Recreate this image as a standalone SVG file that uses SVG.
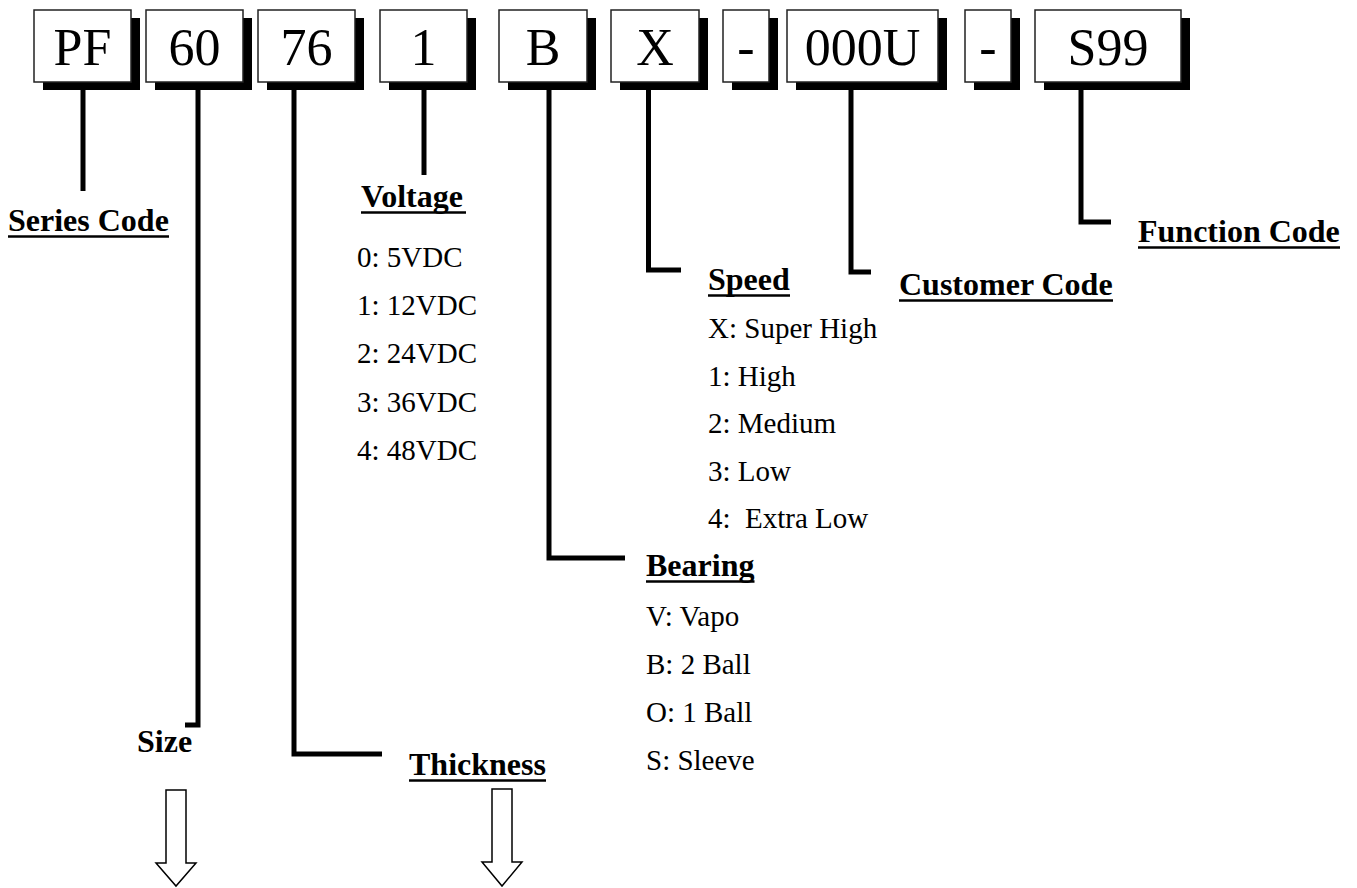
<svg xmlns="http://www.w3.org/2000/svg" width="1357" height="888" viewBox="0 0 1357 888">
<style>
.box{fill:#fff;stroke:#222;stroke-width:1.5}
.sh{fill:#000}
.bt{font-family:"Liberation Serif","Times New Roman",serif;font-size:52px;text-anchor:middle;fill:#000}
.lbl{font-family:"Liberation Serif","Times New Roman",serif;font-size:32px;font-weight:bold;fill:#000}
.it{font-family:"Liberation Serif","Times New Roman",serif;font-size:29px;fill:#000;white-space:pre}
.ul{stroke:#000;stroke-width:2.5}
.con{fill:none;stroke:#000;stroke-width:5}
.arr{fill:#fff;stroke:#000;stroke-width:1.5}
</style>
<rect width="1357" height="888" fill="#fff"/>
<g id="connectors">
<path class="con" d="M83,82 V191"/>
<path class="con" d="M198,82 V725 H185"/>
<path class="con" d="M294,82 V754 H382"/>
<path class="con" d="M424,82 V175"/>
<path class="con" d="M549,82 V558 H625"/>
<path class="con" d="M648.5,82 V270 H681"/>
<path class="con" d="M851,82 V272 H871"/>
<path class="con" d="M1081,82 V222 H1111"/>
</g>
<g id="box-pf"><rect class="sh" x="43" y="18" width="97" height="72"/><rect class="box" x="34" y="10" width="97" height="72"/><text class="bt" x="82.5" y="65">PF</text></g>
<g id="box-60"><rect class="sh" x="155" y="18" width="97" height="72"/><rect class="box" x="146" y="10" width="97" height="72"/><text class="bt" x="194.5" y="65">60</text></g>
<g id="box-76"><rect class="sh" x="267" y="18" width="97" height="72"/><rect class="box" x="258" y="10" width="97" height="72"/><text class="bt" x="306.5" y="65">76</text></g>
<g id="box-1"><rect class="sh" x="389" y="18" width="87" height="72"/><rect class="box" x="380" y="10" width="87" height="72"/><text class="bt" x="423.5" y="65">1</text></g>
<g id="box-b"><rect class="sh" x="508" y="18" width="88" height="72"/><rect class="box" x="499" y="10" width="88" height="72"/><text class="bt" x="543" y="65">B</text></g>
<g id="box-x"><rect class="sh" x="620" y="18" width="88" height="72"/><rect class="box" x="611" y="10" width="88" height="72"/><text class="bt" x="655" y="65">X</text></g>
<g id="box-dash1"><rect class="sh" x="732" y="18" width="46" height="72"/><rect class="box" x="723" y="10" width="46" height="72"/><text class="bt" x="746" y="65">-</text></g>
<g id="box-000u"><rect class="sh" x="796" y="18" width="151" height="72"/><rect class="box" x="787" y="10" width="151" height="72"/><text class="bt" x="862.5" y="65">000U</text></g>
<g id="box-dash2"><rect class="sh" x="974" y="18" width="46" height="72"/><rect class="box" x="965" y="10" width="46" height="72"/><text class="bt" x="988" y="65">-</text></g>
<g id="box-s99"><rect class="sh" x="1044" y="18" width="146" height="72"/><rect class="box" x="1035" y="10" width="146" height="72"/><text class="bt" x="1108" y="65">S99</text></g>
<g id="series-code"><text class="lbl" x="8" y="231">Series Code</text><line class="ul" x1="8" y1="236.5" x2="169" y2="236.5"/></g>
<g id="voltage"><text class="lbl" x="361" y="207">Voltage</text><line class="ul" x1="361" y1="212.5" x2="466" y2="212.5"/>
<text class="it" x="357" y="266.7">0: 5VDC</text>
<text class="it" x="357" y="315">1: 12VDC</text>
<text class="it" x="357" y="363.3">2: 24VDC</text>
<text class="it" x="357" y="411.6">3: 36VDC</text>
<text class="it" x="357" y="460">4: 48VDC</text></g>
<g id="speed"><text class="lbl" x="708" y="290">Speed</text><line class="ul" x1="708" y1="295.5" x2="790" y2="295.5"/>
<text class="it" x="708" y="338">X: Super High</text>
<text class="it" x="708" y="385.5">1: High</text>
<text class="it" x="708" y="433">2: Medium</text>
<text class="it" x="708" y="480.5">3: Low</text>
<text class="it" x="708" y="528">4:  Extra Low</text></g>
<g id="customer-code"><text class="lbl" x="899" y="295">Customer Code</text><line class="ul" x1="899" y1="300.5" x2="1113" y2="300.5"/></g>
<g id="function-code"><text class="lbl" x="1138" y="242">Function Code</text><line class="ul" x1="1138" y1="247.5" x2="1340" y2="247.5"/></g>
<g id="bearing"><text class="lbl" x="646" y="576">Bearing</text><line class="ul" x1="646" y1="581.5" x2="754.5" y2="581.5"/>
<text class="it" x="646" y="626">V: Vapo</text>
<text class="it" x="646" y="674">B: 2 Ball</text>
<text class="it" x="646" y="722">O: 1 Ball</text>
<text class="it" x="646" y="770">S: Sleeve</text></g>
<g id="size"><text class="lbl" x="137" y="752">Size</text>
<path class="arr" d="M166,790 H186 V863 H196 L176,886 L156,863 H166 Z"/></g>
<g id="thickness"><text class="lbl" x="409" y="775">Thickness</text><line class="ul" x1="409" y1="780.5" x2="546" y2="780.5"/>
<path class="arr" d="M492,789 H512 V862 H522 L502,886 L482,862 H492 Z"/></g>
</svg>
